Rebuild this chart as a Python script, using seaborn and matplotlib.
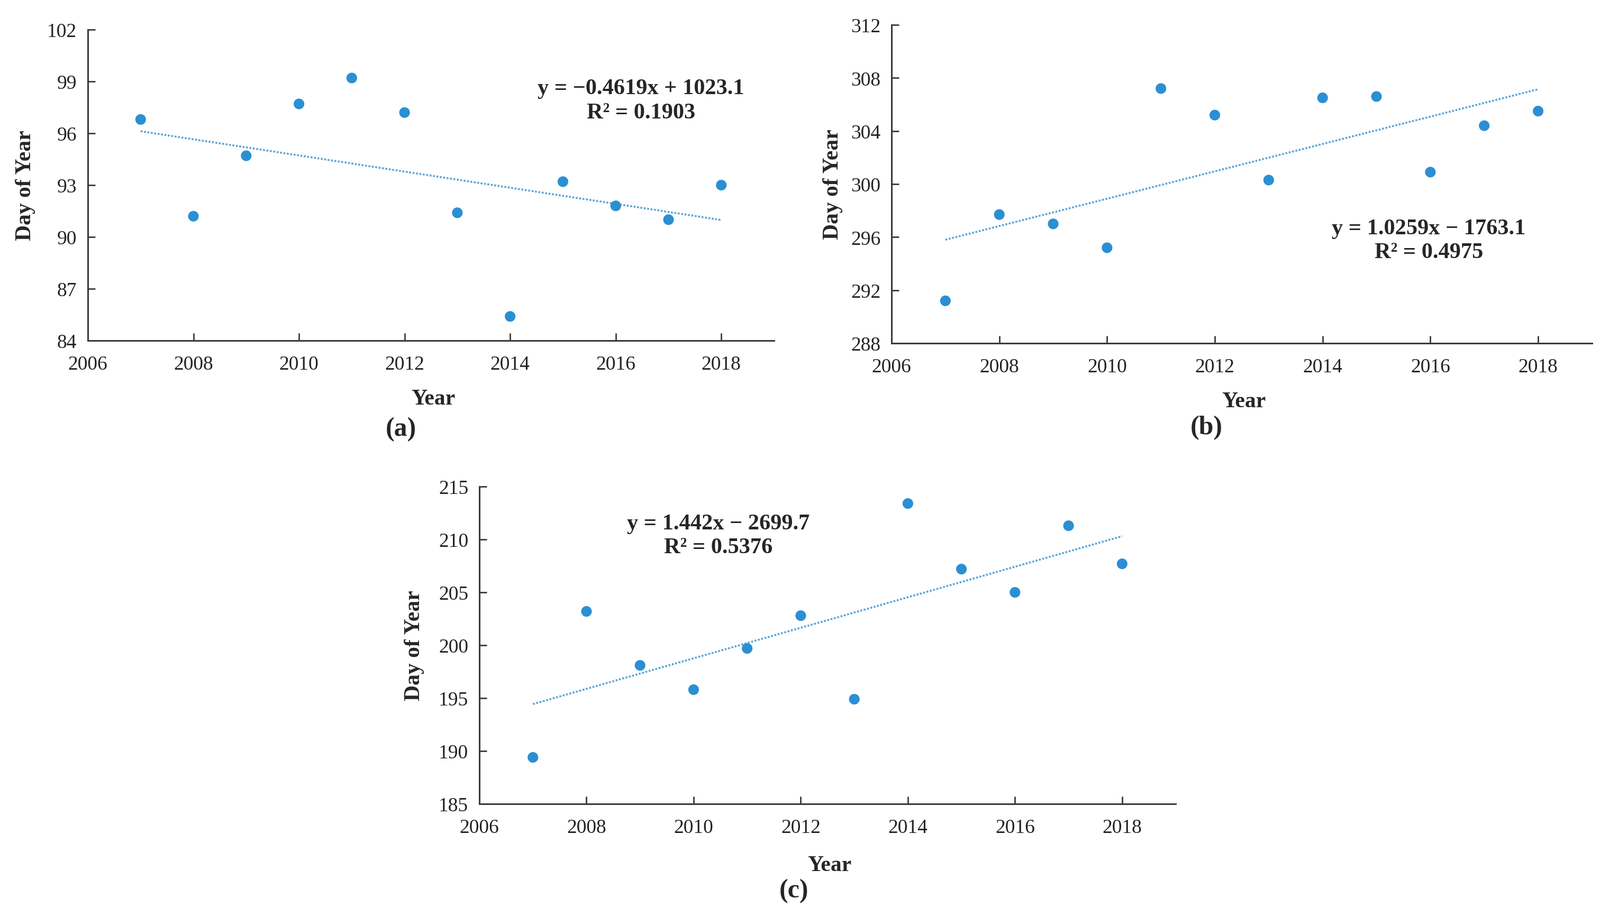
import matplotlib
matplotlib.use("Agg")
import matplotlib.pyplot as plt
import seaborn as sns
import pandas as pd

years = list(range(2007, 2019))

# day of year values
doy_a = [96.8, 91.2, 94.7, 97.7, 99.2, 97.2, 91.4, 85.4, 93.2, 91.8, 91.0, 93.0]
doy_b = [291.2, 297.7, 297.0, 295.2, 307.2, 305.2, 300.3, 306.5, 306.6, 300.9, 304.4, 305.5]
doy_c = [189.4, 203.2, 198.1, 195.8, 199.7, 202.8, 194.9, 213.4, 207.2, 205.0, 211.3, 207.7]

eq_a = "y = \u22120.4619x + 1023.1\nR\u00b2 = 0.1903"
eq_b = "y = 1.0259x \u2212 1763.1\nR\u00b2 = 0.4975"
eq_c = "y = 1.442x \u2212 2699.7\nR\u00b2 = 0.5376"

yticks_a = [84, 87, 90, 93, 96, 99, 102]
yticks_b = [288, 292, 296, 300, 304, 308, 312]
yticks_c = [185, 190, 195, 200, 205, 210, 215]
xticks = [2006, 2008, 2010, 2012, 2014, 2016, 2018]

sns.set_style("ticks")
plt.rcParams["font.family"] = ["Liberation Serif", "DejaVu Serif"]

fig = plt.figure(figsize=(30.24, 17.33), dpi=100)

dot_color = "#2b8fd3"
line_color = "#5aa5d8"
spine_color = "#3a3a3a"

panels = [
    # values, yticks, equation, label, axes rect, eq pos, ylabel x, Year y, panel label pos
    (doy_a, yticks_a, eq_a, "(a)", [0.0549, 0.6278, 0.4289, 0.3393], (0.806, 0.772), -0.091, -0.187, (0.456, -0.284)),
    (doy_b, yticks_b, eq_b, "(b)", [0.5572, 0.6249, 0.4378, 0.3474], (0.767, 0.323), -0.084, -0.183, (0.450, -0.264)),
    (doy_c, yticks_c, eq_c, "(c)", [0.2996, 0.1223, 0.4352, 0.3462], (0.343, 0.846), -0.0935, -0.193, (0.452, -0.273)),
]

for vals, yt, eq, lab, rect, eqpos, ylx, xly, labpos in panels:
    ax = fig.add_axes(rect)
    df = pd.DataFrame({"Year": years, "DOY": vals})

    sns.regplot(data=df, x="Year", y="DOY", ax=ax, scatter=False, ci=None,
                truncate=True, color=line_color,
                line_kws={"linestyle": (0, (1, 0.8)), "linewidth": 2.6})
    sns.scatterplot(data=df, x="Year", y="DOY", ax=ax, color=dot_color,
                    s=210, edgecolor="none", zorder=3)

    ax.set_xlim(2006, 2019)
    ax.set_ylim(yt[0], yt[-1])
    ax.set_xticks(xticks)
    ax.set_yticks(yt)
    ax.set_xlabel("")
    ax.set_ylabel("")
    ax.grid(False)

    for side in ["top", "right"]:
        ax.spines[side].set_visible(False)
    for side in ["left", "bottom"]:
        ax.spines[side].set_linewidth(2.2)
        ax.spines[side].set_color(spine_color)

    ax.tick_params(axis="both", direction="in", length=10, width=2,
                   color=spine_color, labelsize=27, labelcolor="#222222")
    ax.tick_params(axis="x", pad=20)
    ax.tick_params(axis="y", pad=15)

    ax.text(eqpos[0], eqpos[1], eq, transform=ax.transAxes, ha="center",
            va="center", fontsize=30.5, fontweight="bold", linespacing=1.25)
    ax.text(ylx, 0.5, "Day of Year", transform=ax.transAxes, rotation=90,
            ha="center", va="center", fontsize=30, fontweight="bold")
    ax.text(0.503, xly, "Year", transform=ax.transAxes, ha="center",
            va="center", fontsize=30, fontweight="bold")
    ax.text(labpos[0], labpos[1], lab, transform=ax.transAxes, ha="center",
            va="center", fontsize=36, fontweight="bold")

fig.savefig("out.png", dpi=100, facecolor="white")
